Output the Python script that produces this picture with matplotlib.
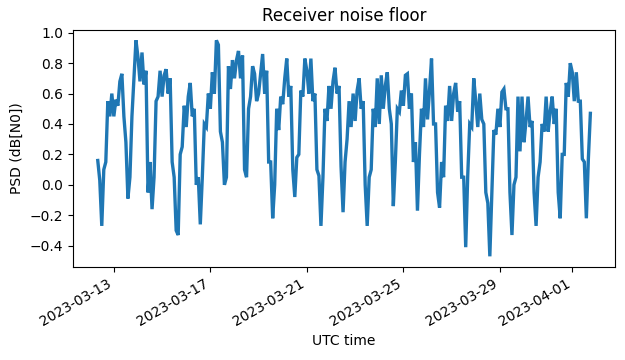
import matplotlib
matplotlib.use("Agg")
import matplotlib.pyplot as plt
import numpy as np
import pandas as pd

# 4-hour bins starting 2023-03-12 08:00 UTC; low / high of the PSD within each bin
bin_start = pd.Timestamp("2023-03-12 08:00")
bin_hours = 4

psd_lo = [
    0.03, -0.27, 0.15, 0.45, 0.45, 0.52, 0.45, -0.09, 0.05, 0.70,
    0.68, 0.66, -0.05, -0.16, 0.05, 0.58, 0.58, 0.60, 0.15, -0.30,
    -0.33, 0.25, 0.38, 0.45, 0.00, -0.26, 0.05, 0.38, 0.50, 0.60,
    0.35, 0.00, 0.05, 0.63, 0.70, 0.70, 0.10, 0.05, 0.58, 0.55,
    0.60, 0.60, 0.15, -0.22, 0.00, 0.36, 0.53, 0.58, 0.10, -0.08,
    0.20, 0.58, 0.60, 0.55, 0.10, -0.27, 0.05, 0.42, 0.50, 0.60,
    0.12, -0.18, 0.30, 0.38, 0.42, 0.50, 0.00, -0.27, 0.10, 0.38,
    0.40, 0.50, 0.50, -0.14, 0.15, 0.48, 0.52, 0.50, 0.15, -0.17,
    0.20, 0.38, 0.43, 0.40, -0.05, -0.15, 0.05, 0.42, 0.42, 0.48,
    0.05, -0.41, 0.06, 0.38, 0.38, 0.43, -0.05, -0.47, -0.05, 0.33,
    0.38, 0.50, -0.05, -0.33, 0.05, 0.22, 0.28, 0.38, -0.05, -0.27,
    0.15, 0.35, 0.35, 0.40, -0.05, -0.22, 0.20, 0.58, 0.55, 0.55,
    0.17, -0.22, 0.17,
]
psd_hi = [
    0.16, 0.10, 0.55, 0.60, 0.56, 0.68, 0.73, 0.28, 0.45, 0.95,
    0.84, 0.87, 0.75, 0.15, 0.55, 0.75, 0.72, 0.76, 0.70, 0.05,
    0.20, 0.52, 0.58, 0.67, 0.50, 0.05, 0.40, 0.60, 0.74, 0.95,
    0.92, 0.28, 0.78, 0.82, 0.82, 0.88, 0.85, 0.50, 0.78, 0.73,
    0.73, 0.86, 0.75, 0.15, 0.50, 0.58, 0.70, 0.83, 0.65, 0.18,
    0.62, 0.83, 0.75, 0.83, 0.60, 0.06, 0.50, 0.65, 0.68, 0.77,
    0.65, 0.15, 0.55, 0.60, 0.62, 0.70, 0.55, 0.05, 0.50, 0.70,
    0.72, 0.65, 0.74, 0.40, 0.50, 0.62, 0.72, 0.73, 0.60, 0.28,
    0.50, 0.70, 0.62, 0.83, 0.40, 0.15, 0.52, 0.65, 0.60, 0.67,
    0.55, 0.05, 0.40, 0.70, 0.55, 0.60, 0.40, -0.12, 0.36, 0.50,
    0.61, 0.63, 0.50, 0.00, 0.58, 0.58, 0.42, 0.58, 0.42, 0.05,
    0.40, 0.58, 0.48, 0.58, 0.50, 0.20, 0.67, 0.80, 0.74, 0.74,
    0.55, 0.15, 0.47,
]

# min/max trace: inside each bin go low->high on the way up, high->low on the way down
lo = np.array(psd_lo)
hi = np.array(psd_hi)
mid = (lo + hi) / 2
prev_mid = np.r_[mid[0], mid[:-1]]
next_mid = np.r_[mid[1:], mid[-1]]
falling = next_mid < prev_mid
first = np.where(falling, hi, lo)
second = np.where(falling, lo, hi)

starts = pd.date_range(bin_start, periods=len(lo), freq=f"{bin_hours}h")
half = pd.Timedelta(hours=bin_hours / 2)
times = np.empty(2 * len(starts), dtype="datetime64[ns]")
times[0::2] = starts.values
times[1::2] = (starts + half).values
vals = np.empty(2 * len(lo))
vals[0::2] = first
vals[1::2] = second

fig, ax = plt.subplots(figsize=(6.25, 3.6), dpi=100)
# thicker stroke stands in for the dense per-sample jitter of the raw trace
ax.plot(times, vals, color="#1f77b4", lw=2.4, solid_joinstyle="miter")
ax.set_title("Receiver noise floor")
ax.set_xlabel("UTC time")
ax.set_ylabel("PSD (dB[N0])")
fig.autofmt_xdate()
fig.subplots_adjust(left=0.117, right=0.984, bottom=0.258, top=0.918)
fig.savefig("out.png", dpi=100)
